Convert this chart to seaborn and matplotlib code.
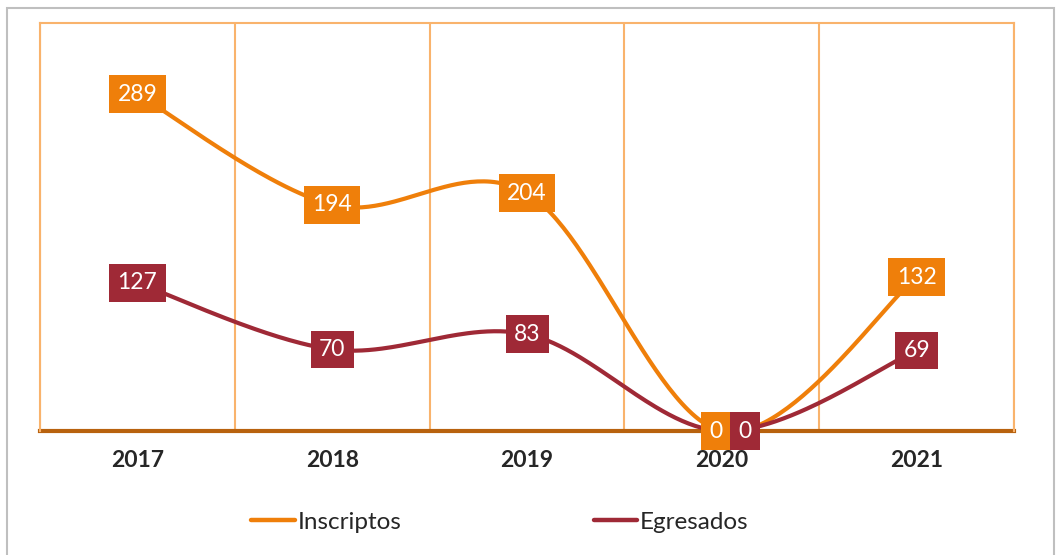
import numpy as np
import pandas as pd
import matplotlib
matplotlib.use("Agg")
import matplotlib.pyplot as plt
from matplotlib.lines import Line2D
from matplotlib.patches import Rectangle
import seaborn as sns

# Data
years = ["2017", "2018", "2019", "2020", "2021"]
inscriptos = [289, 194, 204, 0, 132]
egresados = [127, 70, 83, 0, 69]
series_names = ["Inscriptos", "Egresados"]

ORANGE = "#EF7F0A"
MAROON = "#9F2936"
GRID = "#F9B36C"
AXIS = "#B8620E"
TEXT = "#262626"

sns.set_theme(style="white")
plt.rcParams["font.family"] = ["Lato", "DejaVu Sans"]


def smooth_curve(values, samples=60):
    """Sample an Excel-style smoothed line (cubic Bezier per segment)."""
    y = np.asarray(values, dtype=float)
    x = np.arange(len(y), dtype=float)
    n = len(y)
    xs, ys = [], []
    for i in range(n - 1):
        yp = y[i - 1] if i > 0 else y[i]
        yn = y[i + 2] if i + 2 < n else y[i + 1]
        xp = x[i - 1] if i > 0 else x[i]
        xn = x[i + 2] if i + 2 < n else x[i + 1]
        p0 = np.array([x[i], y[i]])
        p3 = np.array([x[i + 1], y[i + 1]])
        c1 = p0 + (p3 - np.array([xp, yp])) / 6.0
        c2 = p3 - (np.array([xn, yn]) - p0) / 6.0
        t = np.linspace(0, 1, samples)[:, None]
        pts = ((1 - t) ** 3) * p0 + 3 * ((1 - t) ** 2) * t * c1 \
            + 3 * (1 - t) * t ** 2 * c2 + t ** 3 * p3
        if i > 0:
            pts = pts[1:]
        xs.append(pts[:, 0])
        ys.append(pts[:, 1])
    return np.concatenate(xs), np.concatenate(ys)


W, H = 1057, 555
fig = plt.figure(figsize=(W / 100, H / 100), dpi=100)
ax = fig.add_axes([40 / W, (H - 431) / H, (1014 - 40) / W, (431 - 23) / H])

frames = []
for name, vals in zip(series_names, [inscriptos, egresados]):
    sx, sy = smooth_curve(vals)
    frames.append(pd.DataFrame({"x": sx, "y": sy, "serie": name}))
curves = pd.concat(frames, ignore_index=True)

sns.lineplot(data=curves, x="x", y="y", hue="serie", sort=False,
             palette={"Inscriptos": ORANGE, "Egresados": MAROON},
             linewidth=3.0, legend=False, ax=ax, zorder=3)

ax.set_xlim(-0.5, len(years) - 0.5)
ax.set_ylim(0, 350)
ax.set_xlabel("")
ax.set_ylabel("")
ax.set_yticks([])

# Category axis: labels centred, tick marks between categories
ax.set_xticks(range(len(years)))
ax.set_xticklabels(years, fontsize=16.5, fontweight="bold", color=TEXT)
ax.tick_params(axis="x", which="major", length=0, pad=14)
ax.set_xticks(np.arange(-0.5, len(years), 1.0), minor=True)
ax.tick_params(axis="x", which="minor", direction="out", length=5,
               width=3, color=AXIS)
ax.grid(False)
for xb in np.arange(-0.5, len(years), 1.0):
    ax.axvline(xb, color=GRID, linewidth=1.5, zorder=1)

for side in ["top", "left", "right"]:
    ax.spines[side].set_color(GRID)
    ax.spines[side].set_linewidth(1.5)
ax.spines["bottom"].set_color(AXIS)
ax.spines["bottom"].set_linewidth(3)
ax.spines["bottom"].set_zorder(2)

# Data labels
offsets = {"Inscriptos": {3: -5.5}, "Egresados": {3: 23.5}}
for name, vals, col in zip(series_names, [inscriptos, egresados], [ORANGE, MAROON]):
    for i, v in enumerate(vals):
        dx = offsets[name].get(i, 0)
        ax.annotate(f"{v}", xy=(i, v), xytext=(dx, 0), textcoords="offset pixels",
                    ha="center", va="center", fontsize=16.5, color="white",
                    annotation_clip=False, zorder=5,
                    bbox=dict(boxstyle="square,pad=0.36", fc=col, ec="none"))

# Legend
handles = [Line2D([0], [0], color=ORANGE, lw=3.2, solid_capstyle="round"),
           Line2D([0], [0], color=MAROON, lw=3.2, solid_capstyle="round")]
fig.legend(handles, series_names, loc="center left",
           bbox_to_anchor=(251 / W, 1 - 522 / H), ncol=2, frameon=False,
           fontsize=17.5, labelcolor=TEXT, handlelength=1.8, handletextpad=0.12,
           columnspacing=7.9, borderpad=0, borderaxespad=0)

# Outer chart border
fig.patches.append(Rectangle((7 / W, -0.02), (1054 - 7) / W, 1.02 - 8 / H,
                             transform=fig.transFigure, fill=False,
                             edgecolor="#BFBFBF", linewidth=1.5))

fig.savefig("out.png", dpi=100, facecolor="white")
